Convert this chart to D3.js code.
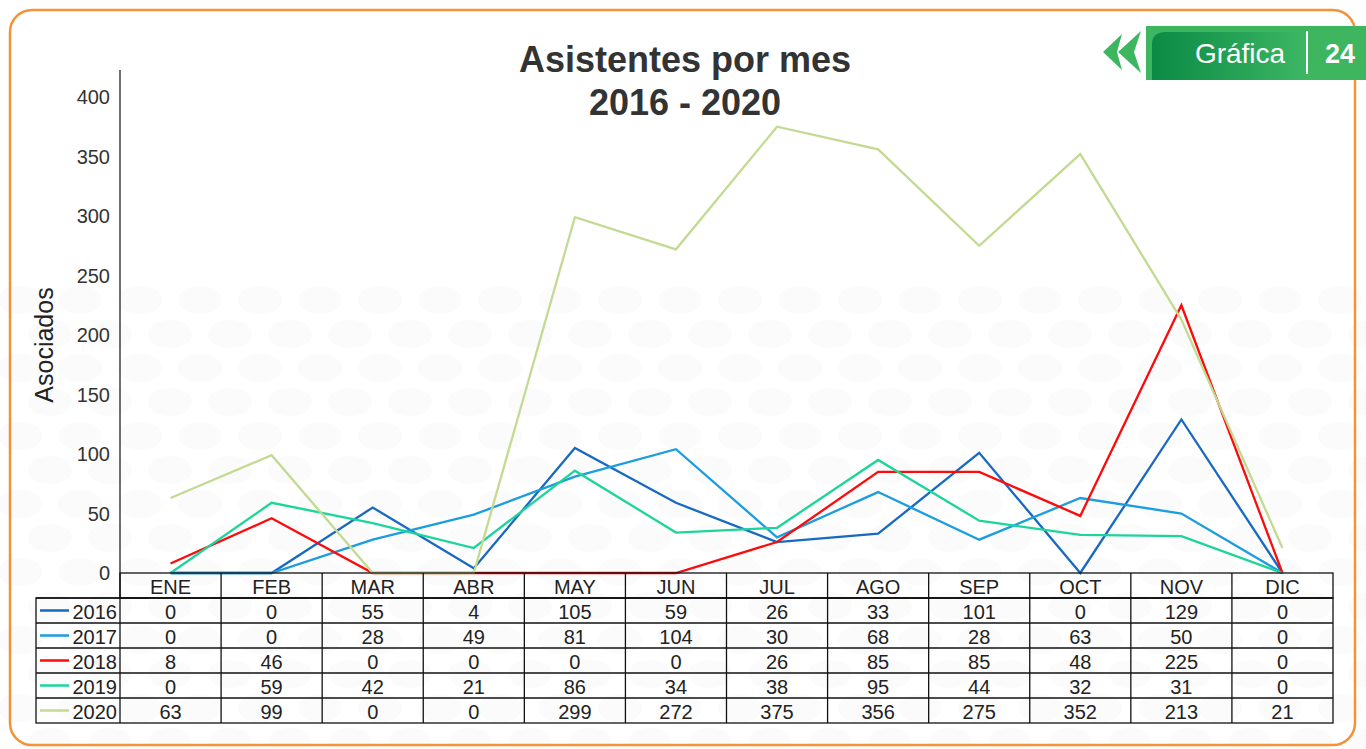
<!DOCTYPE html>
<html>
<head>
<meta charset="utf-8">
<script src="https://cdn.jsdelivr.net/npm/d3@7"></script>
<style>
  body { margin: 0; background: #fff; }
  svg { display: block; font-family: "Liberation Sans", Arial, sans-serif; }
</style>
</head>
<body>
<svg id="chart" width="1366" height="749"></svg>
<script>
// Data
var months = ["ENE", "FEB", "MAR", "ABR", "MAY", "JUN", "JUL", "AGO", "SEP", "OCT", "NOV", "DIC"];
var years = ["2016", "2017", "2018", "2019", "2020"];
var v2016 = [0, 0, 55, 4, 105, 59, 26, 33, 101, 0, 129, 0];
var v2017 = [0, 0, 28, 49, 81, 104, 30, 68, 28, 63, 50, 0];
var v2018 = [8, 46, 0, 0, 0, 0, 26, 85, 85, 48, 225, 0];
var v2019 = [0, 59, 42, 21, 86, 34, 38, 95, 44, 32, 31, 0];
var v2020 = [63, 99, 0, 0, 299, 272, 375, 356, 275, 352, 213, 21];
var yTicks = [0, 50, 100, 150, 200, 250, 300, 350, 400];
var colors = ["#1769c2", "#1b9ddf", "#ff0a0a", "#1dd49b", "#c3da92"];

var series = years.map((y, i) => ({ year: y, values: [v2016, v2017, v2018, v2019, v2020][i], color: colors[i] }));

var svg = d3.select("#chart");

// Very faint background blobs
var bg = svg.append("g").attr("opacity", 0.35);
d3.range(0, 14).forEach(function(r) {
	d3.range(0, 24).forEach(function(c) {
		bg.append("ellipse")
			.attr("cx", 20 + c * 60 + (r % 2) * 30)
			.attr("cy", 300 + r * 34)
			.attr("rx", 22)
			.attr("ry", 14)
			.attr("fill", "#f4f4f4");
	});
});

// Orange frame
svg.append("rect")
	.attr("x", 10).attr("y", 10)
	.attr("width", 1345).attr("height", 735)
	.attr("rx", 22)
	.attr("fill", "none")
	.attr("stroke", "#f39237")
	.attr("stroke-width", 2.5);

// Layout
var left = 120, right = 1333, zeroY = 573;
var x = d3.scaleBand().domain(months).range([left, right]);
var y = d3.scaleLinear().domain([0, 400]).range([zeroY, 97]);

// Y axis
svg.append("line")
	.attr("x1", left).attr("x2", left)
	.attr("y1", 70).attr("y2", zeroY)
	.attr("stroke", "#222").attr("stroke-width", 1.3);

svg.append("g").selectAll("text")
	.data(yTicks)
	.enter()
	.append("text")
	.attr("x", 110)
	.attr("y", d => y(d))
	.attr("dy", "0.36em")
	.attr("text-anchor", "end")
	.attr("font-size", 20)
	.attr("fill", "#333")
	.text(d => d);

svg.append("text")
	.attr("transform", "translate(53," + 345 + ") rotate(-90)")
	.attr("text-anchor", "middle")
	.attr("font-size", 25)
	.attr("fill", "#222")
	.text("Asociados");

// Lines
var line = d3.line()
	.x((d, i) => x(months[i]) + x.bandwidth() / 2)
	.y(d => y(d));

svg.append("g").selectAll("path")
	.data(series)
	.enter()
	.append("path")
	.attr("d", d => line(d.values))
	.attr("fill", "none")
	.attr("stroke", d => d.color)
	.attr("stroke-width", 2.3);

// Title
svg.append("text")
	.attr("x", 685).attr("y", 72)
	.attr("text-anchor", "middle")
	.attr("font-size", 36)
	.attr("font-weight", "bold")
	.attr("fill", "#333")
	.text("Asistentes por mes");
svg.append("text")
	.attr("x", 685).attr("y", 115)
	.attr("text-anchor", "middle")
	.attr("font-size", 36)
	.attr("font-weight", "bold")
	.attr("fill", "#333")
	.text("2016 - 2020");

// Data table
var rowH = 25, headTop = zeroY, tableLeft = 36;
var table = svg.append("g");
var nRows = years.length + 1;

table.append("rect")
	.attr("x", left).attr("y", headTop)
	.attr("width", right - left).attr("height", rowH)
	.attr("fill", "none").attr("stroke", "#111").attr("stroke-width", 1.3);
table.append("rect")
	.attr("x", tableLeft).attr("y", headTop + rowH)
	.attr("width", right - tableLeft).attr("height", rowH * years.length)
	.attr("fill", "none").attr("stroke", "#111").attr("stroke-width", 1.3);

months.forEach(function(m, i) {
	table.append("line")
		.attr("x1", x(m)).attr("x2", x(m))
		.attr("y1", headTop).attr("y2", headTop + rowH * nRows)
		.attr("stroke", "#111").attr("stroke-width", 1.3);
	table.append("text")
		.attr("x", x(m) + x.bandwidth() / 2)
		.attr("y", headTop + rowH / 2 + 1)
		.attr("dy", "0.36em")
		.attr("text-anchor", "middle")
		.attr("font-size", 20)
		.attr("fill", "#222")
		.text(m);
});

series.forEach(function(s, r) {
	var ry = headTop + rowH * (r + 1);
	table.append("line")
		.attr("x1", tableLeft).attr("x2", right)
		.attr("y1", ry).attr("y2", ry)
		.attr("stroke", "#111").attr("stroke-width", 1.3);
	table.append("line")
		.attr("x1", 40).attr("x2", 69)
		.attr("y1", ry + rowH / 2).attr("y2", ry + rowH / 2)
		.attr("stroke", s.color).attr("stroke-width", 2.5);
	table.append("text")
		.attr("x", 117)
		.attr("y", ry + rowH / 2 + 1)
		.attr("dy", "0.36em")
		.attr("text-anchor", "end")
		.attr("font-size", 20)
		.attr("fill", "#222")
		.text(s.year);
	s.values.forEach(function(v, i) {
		table.append("text")
			.attr("x", x(months[i]) + x.bandwidth() / 2)
			.attr("y", ry + rowH / 2 + 1)
			.attr("dy", "0.36em")
			.attr("text-anchor", "middle")
			.attr("font-size", 20)
			.attr("fill", "#222")
			.text(v);
	});
});

// Badge "Gráfica 24"
var defs = svg.append("defs");
var grad = defs.append("linearGradient").attr("id", "gbadge").attr("x1", "0").attr("x2", "1");
grad.append("stop").attr("offset", "0").attr("stop-color", "#0b8a45");
grad.append("stop").attr("offset", "1").attr("stop-color", "#3bb663");

var badge = svg.append("g");
badge.append("rect")
	.attr("x", 1146).attr("y", 26)
	.attr("width", 220).attr("height", 54)
	.attr("fill", "#3db65f");
badge.append("path")
	.attr("d", "M1152,80 L1152,44 Q1152,32 1166,32 L1305,32 L1305,74 L1305,80 Z")
	.attr("fill", "url(#gbadge)");
badge.append("path")
	.attr("d", "M1103,52 L1122,34 L1117,52 L1122,70 Z")
	.attr("fill", "#3db65f");
badge.append("path")
	.attr("d", "M1118,52 L1141,31 L1134,52 L1141,73 Z")
	.attr("fill", "#3db65f");
badge.append("text")
	.attr("x", 1240).attr("y", 63)
	.attr("text-anchor", "middle")
	.attr("font-size", 28)
	.attr("fill", "#fff")
	.text("Gráfica");
badge.append("line")
	.attr("x1", 1307).attr("x2", 1307)
	.attr("y1", 31).attr("y2", 74)
	.attr("stroke", "#fff").attr("stroke-width", 2);
badge.append("text")
	.attr("x", 1340).attr("y", 63)
	.attr("text-anchor", "middle")
	.attr("font-size", 27)
	.attr("font-weight", "bold")
	.attr("fill", "#fff")
	.text("24");
</script>
</body>
</html>
